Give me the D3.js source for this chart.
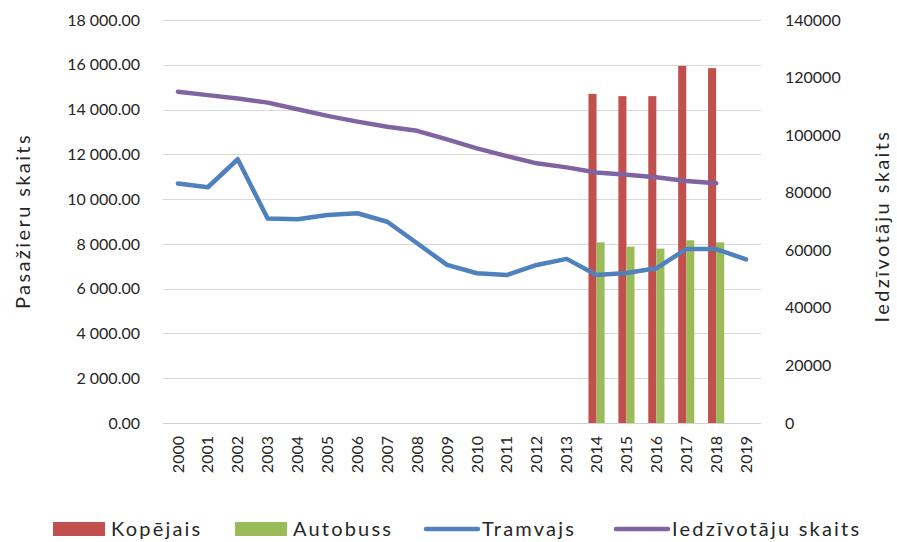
<!DOCTYPE html>
<html>
<head>
<meta charset="utf-8">
<script src="https://cdn.jsdelivr.net/npm/d3@7"></script>
<style>
  body { margin: 0; background: #fff; }
  text { font-family: Lato, "Open Sans", sans-serif; fill: #262626; }
</style>
</head>
<body>
<svg id="chart"></svg>
<script>
const width = 897
const height = 542

const years = ["2000","2001","2002","2003","2004","2005","2006","2007","2008","2009",
  "2010","2011","2012","2013","2014","2015","2016","2017","2018","2019"];

// bars (left axis), only 2014-2018
const barYears = ["2014","2015","2016","2017","2018"];
const kopejais = [14700, 14600, 14600, 15950, 15850];
const autobuss = [8070, 7880, 7790, 8160, 8070];

// tram passengers (left axis)
const tramvajs = [10700, 10530, 11780, 9130, 9100, 9290, 9370, 8990, 8030, 7060,
  6690, 6610, 7060, 7330, 6610, 6700, 6910, 7770, 7770, 7310];

// inhabitants (right axis), 2000-2018
const iedzivotaji = [115100, 113900, 112700, 111300, 109000, 106700, 104700, 102900, 101500, 98500,
  95400, 92700, 90200, 88800, 87000, 86200, 85400, 84100, 83300];

const leftTicks = [0, 2000, 4000, 6000, 8000, 10000, 12000, 14000, 16000, 18000];
const rightTicks = [0, 20000, 40000, 60000, 80000, 100000, 120000, 140000];

const margin = {top: 20, right: 136, bottom: 119, left: 163};

const svg = d3.select("#chart")
    .attr("width", width)
    .attr("height", height);

const x0 = d3.scaleBand()
    .domain(years)
    .range([margin.left, width - margin.right]);

const x1 = d3.scaleBand()
    .domain(["Kopējais", "Autobuss"])
    .range([x0.bandwidth() * 0.23, x0.bandwidth() * 0.77]);

const yL = d3.scaleLinear()
    .domain([0, 18000])
    .range([height - margin.bottom, margin.top]);

const yR = d3.scaleLinear()
    .domain([0, 140000])
    .range([height - margin.bottom, margin.top]);

const fmt = d => d3.format(",.2f")(d).replace(/,/g, " ");

// gridlines
svg.append("g")
  .selectAll("line")
  .data(leftTicks)
  .join("line")
    .attr("x1", margin.left)
    .attr("x2", width - margin.right)
    .attr("y1", d => Math.round(yL(d)) + 0.5)
    .attr("y2", d => Math.round(yL(d)) + 0.5)
    .attr("stroke", d => d === 0 ? "#d0d0d0" : "#d9d9d9")
    .attr("stroke-width", 1);

// left axis labels
svg.append("g")
    .attr("transform", `translate(${margin.left - 20},0)`)
    .call(d3.axisLeft(yL).tickValues(leftTicks).tickFormat(fmt).tickSize(0))
    .call(g => g.select(".domain").remove())
    .call(g => g.selectAll("text")
        .attr("font-size", 16)
        .attr("font-family", "Lato, sans-serif")
        .attr("fill", "#262626"));

// right axis labels
svg.append("g")
    .attr("transform", `translate(${width - margin.right + 21},0)`)
    .call(d3.axisRight(yR).tickValues(rightTicks).tickFormat(d3.format("d")).tickSize(0))
    .call(g => g.select(".domain").remove())
    .call(g => g.selectAll("text")
        .attr("font-size", 16)
        .attr("font-family", "Lato, sans-serif")
        .attr("fill", "#262626"));

// x axis labels rotated
svg.append("g")
    .attr("transform", `translate(0,${height - margin.bottom})`)
    .call(d3.axisBottom(x0).tickSize(0).tickPadding(0))
    .call(g => g.select(".domain").remove())
    .call(g => g.selectAll("text")
        .attr("font-size", 16)
        .attr("font-family", "Lato, sans-serif")
        .attr("fill", "#262626")
        .attr("transform", "rotate(-90)")
        .attr("text-anchor", "end")
        .attr("x", -13)
        .attr("y", 0)
        .attr("dy", "0.35em"));

// bars
const barData = barYears.map((y, i) => ({year: y, values: [
  {key: "Kopējais", value: kopejais[i]},
  {key: "Autobuss", value: autobuss[i]}
]}));
const color = d3.scaleOrdinal()
    .domain(["Kopējais", "Autobuss"])
    .range(["#C0504D", "#9BBB59"]);

svg.append("g")
  .selectAll("g")
  .data(barData)
  .join("g")
    .attr("transform", d => `translate(${x0(d.year)},0)`)
  .selectAll("rect")
  .data(d => d.values)
  .join("rect")
    .attr("x", d => x1(d.key))
    .attr("width", x1.bandwidth())
    .attr("y", d => yL(d.value))
    .attr("height", d => yL(0) - yL(d.value))
    .attr("fill", d => color(d.key));

const cx = d => x0(d) + x0.bandwidth() / 2;

// tram line
svg.append("path")
    .datum(tramvajs)
    .attr("fill", "none")
    .attr("stroke", "#4F81BD")
    .attr("stroke-width", 4.5)
    .attr("stroke-linejoin", "round")
    .attr("stroke-linecap", "round")
    .attr("d", d3.line().x((d, i) => cx(years[i])).y(d => yL(d)));

// inhabitants line
svg.append("path")
    .datum(iedzivotaji)
    .attr("fill", "none")
    .attr("stroke", "#8064A2")
    .attr("stroke-width", 4.5)
    .attr("stroke-linejoin", "round")
    .attr("stroke-linecap", "round")
    .attr("d", d3.line().x((d, i) => cx(years[i])).y(d => yR(d)));

// axis titles
svg.append("text")
    .attr("transform", `translate(30,221) rotate(-90)`)
    .attr("text-anchor", "middle")
    .attr("font-size", 20)
    .attr("letter-spacing", 2.4)
    .text("Pasažieru skaits");

svg.append("text")
    .attr("transform", `translate(889,226) rotate(-90)`)
    .attr("text-anchor", "middle")
    .attr("font-size", 20)
    .attr("letter-spacing", 2.4)
    .text("Iedzīvotāju skaits");

// legend
const legend = [
  {name: "Kopējais", type: "rect", color: "#C0504D", x: 53},
  {name: "Autobuss", type: "rect", color: "#9BBB59", x: 235},
  {name: "Tramvajs", type: "line", color: "#4F81BD", x: 424},
  {name: "Iedzīvotāju skaits", type: "line", color: "#8064A2", x: 614}
];
const lg = svg.append("g").attr("transform", "translate(0,529)");
const item = lg.selectAll("g").data(legend).join("g")
    .attr("transform", d => `translate(${d.x},0)`);
item.filter(d => d.type === "rect").append("rect")
    .attr("x", 0).attr("y", -7).attr("width", 52).attr("height", 14)
    .attr("fill", d => d.color);
item.filter(d => d.type === "line").append("line")
    .attr("x1", 2).attr("x2", 54).attr("y1", 0).attr("y2", 0)
    .attr("stroke", d => d.color).attr("stroke-width", 4.5)
    .attr("stroke-linecap", "round");
item.append("text")
    .attr("x", d => d.type === "rect" ? 58 : 58)
    .attr("dy", "0.36em")
    .attr("font-size", 20)
    .attr("letter-spacing", 2.2)
    .text(d => d.name);
</script>
</body>
</html>
